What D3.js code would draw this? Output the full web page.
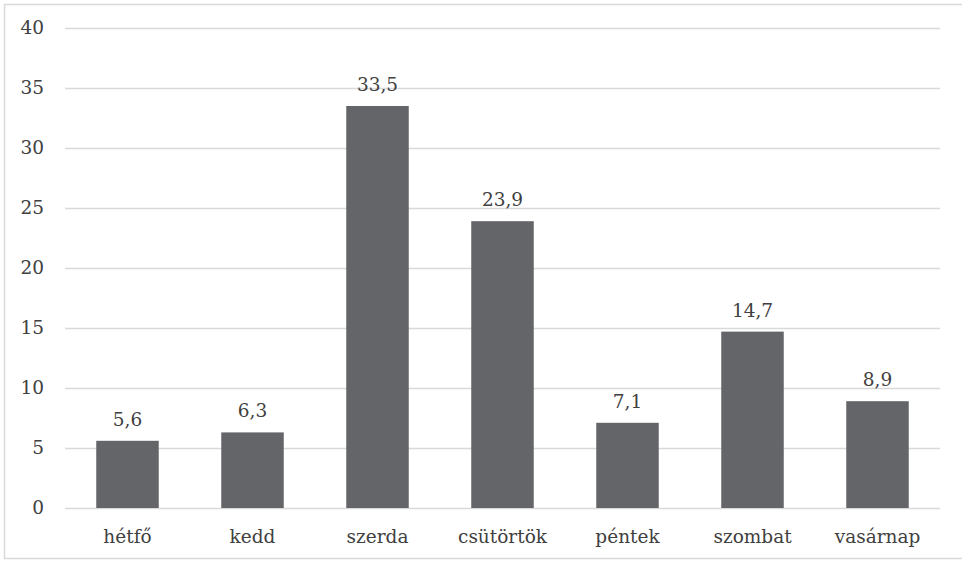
<!DOCTYPE html>
<html>
<head>
<meta charset="utf-8">
<script src="https://cdn.jsdelivr.net/npm/d3@7"></script>
<style>
  body { margin: 0; background: #fff; }
</style>
</head>
<body>
<svg id="chart" width="962" height="563"></svg>
<script>
const days = ['hétfő', 'kedd', 'szerda', 'csütörtök', 'péntek', 'szombat', 'vasárnap'];
const values = [5.6, 6.3, 33.5, 23.9, 7.1, 14.7, 8.9];
const yTicks = [0, 5, 10, 15, 20, 25, 30, 35, 40];

const svg = d3.select('svg#chart');
const plotLeft = 65, plotRight = 940, plotTop = 28, plotBottom = 508;
const serif = "'DejaVu Serif', serif";
const textStyle = sel => sel
    .attr('font-family', serif)
    .attr('font-size', '18.5px')
    .attr('fill', '#404040');

// outer frame (right edge runs off the picture)
svg.append('rect')
    .attr('x', 4.5).attr('y', 4.5)
    .attr('width', 980).attr('height', 554)
    .attr('fill', 'none')
    .attr('stroke', '#d9d9d9')
    .attr('stroke-width', 1.5);

const x = d3.scaleBand()
    .domain(days)
    .range([plotLeft, plotRight])
    .paddingInner(0.5)
    .paddingOuter(0.25);

const y = d3.scaleLinear()
    .domain([0, 40])
    .range([plotBottom, plotTop]);

// gridlines
svg.append('g')
    .attr('transform', `translate(${plotLeft},0)`)
    .call(d3.axisLeft(y).tickValues(yTicks).tickSize(-(plotRight - plotLeft)).tickFormat(''))
    .call(g => g.select('.domain').remove())
    .call(g => g.selectAll('line').attr('stroke', '#d9d9d9').attr('stroke-width', 1.5));

// y labels
svg.append('g')
    .attr('transform', `translate(${plotLeft - 21},0)`)
    .call(d3.axisLeft(y).tickValues(yTicks).tickSize(0).tickPadding(0))
    .call(g => g.attr('font-family', serif))
    .call(g => g.select('.domain').remove())
    .call(g => g.selectAll('text').call(textStyle));

// bars
svg.append('g').selectAll('rect')
    .data(values)
    .enter()
    .append('rect')
    .attr('x', (d, i) => x(days[i]))
    .attr('y', d => y(d))
    .attr('width', x.bandwidth())
    .attr('height', d => y(0) - y(d))
    .attr('fill', '#646568');

// value labels
svg.append('g').selectAll('text')
    .data(values)
    .enter()
    .append('text')
    .attr('x', (d, i) => x(days[i]) + x.bandwidth() / 2)
    .attr('y', d => y(d) - 15)
    .attr('text-anchor', 'middle')
    .call(textStyle)
    .text(d => d.toFixed(1).replace('.', ','));

// x labels
svg.append('g')
    .attr('transform', `translate(0,${plotBottom})`)
    .call(d3.axisBottom(x).tickSize(0).tickPadding(22))
    .call(g => g.attr('font-family', serif))
    .call(g => g.select('.domain').remove())
    .call(g => g.selectAll('text').call(textStyle));
</script>
</body>
</html>
